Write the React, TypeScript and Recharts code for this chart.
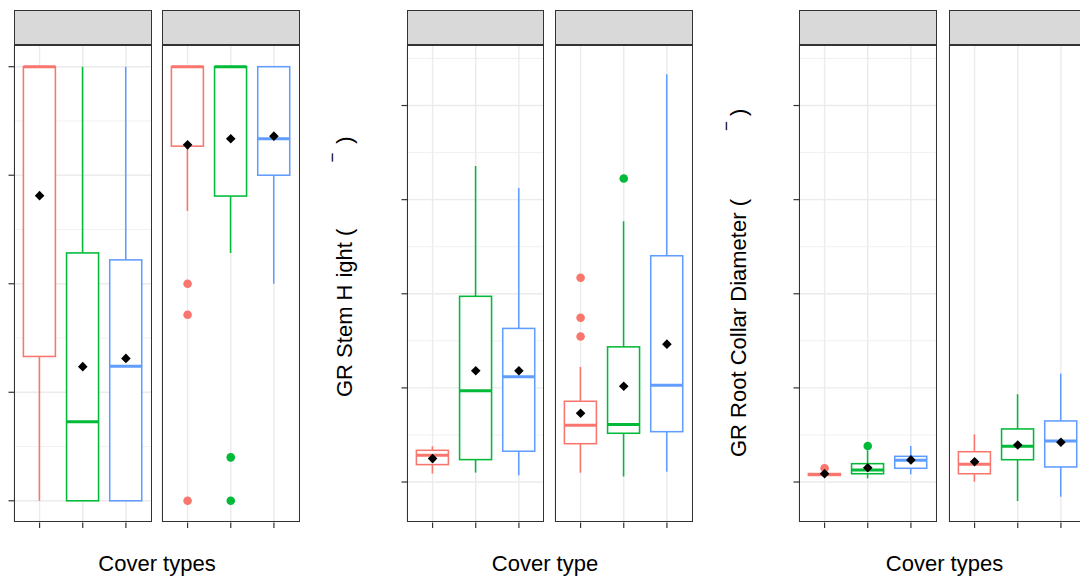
import React from 'react'
import { ComposedChart, Bar, Scatter, XAxis, YAxis, CartesianGrid } from 'recharts'

// cover types, one box per type in every facet
const covers = ['Bare soil', 'Herbaceous', 'Shrub']
const palette = ['#F8766D', '#00BA38', '#619CFF']

// box stats per cover type: [lower whisker, Q1, median, Q3, upper whisker, mean]
const survivalA = [
  [0, 0.3325, 1, 1, 1, 0.703],
  [0, 0, 0.182, 0.571, 1, 0.309],
  [0, 0, 0.31, 0.555, 1, 0.328],
]
const survivalB = [
  [0.6675, 0.817, 1, 1, 1, 0.82],
  [0.571, 0.702, 1, 1, 1, 0.834],
  [0.5, 0.75, 0.834, 1, 1, 0.84],
]
const survivalBOut = [[0.5, 0.4286, 0], [0.1, 0], []]

const stemA = [
  [0.09, 0.185, 0.284, 0.337, 0.38, 0.249],
  [0.1, 0.238, 0.971, 1.973, 3.358, 1.182],
  [0.071, 0.327, 1.119, 1.632, 3.123, 1.182],
]
const stemB = [
  [0.099, 0.407, 0.603, 0.858, 1.223, 0.731],
  [0.059, 0.518, 0.61, 1.436, 2.771, 1.018],
  [0.11, 0.535, 1.029, 2.404, 4.333, 1.465],
]
const stemBOut = [[2.17, 1.745, 1.546], [3.225], []]

const collarA = [
  [0.065, 0.07, 0.08, 0.09, 0.095, 0.088],
  [0.039, 0.088, 0.128, 0.195, 0.337, 0.152],
  [0.082, 0.146, 0.231, 0.273, 0.383, 0.235],
]
const collarAOut = [[0.146], [0.383], []]
const collarB = [
  [0.003, 0.088, 0.188, 0.322, 0.507, 0.216],
  [-0.202, 0.237, 0.38, 0.564, 0.933, 0.394],
  [-0.156, 0.16, 0.436, 0.649, 1.152, 0.422],
]

// axis breaks
const survivalTicks = [0, 0.25, 0.5, 0.75, 1]
const survivalMinor = [0.125, 0.375, 0.625, 0.875]
const growthTicks = [0, 1, 2, 3, 4]
const growthMinor = [0.5, 1.5, 2.5, 3.5, 4.5]

const survivalDomain: [number, number] = [-0.05, 1.05]
const growthDomain: [number, number] = [-0.43, 4.643]

const OUT_KEYS = ['out0', 'out1', 'out2']

type Row = {
  cover: string
  lo: number
  q1: number
  med: number
  q3: number
  hi: number
  mean: number
  [k: string]: any
}

function toRows(stats: number[][], outliers: number[][] = []): Row[] {
  return covers.map((cover, i) => {
    const [lo, q1, med, q3, hi, mean] = stats[i]
    const o = outliers[i] || []
    const row: Row = { cover, lo, q1, med, q3, hi, mean }
    OUT_KEYS.forEach((k, j) => {
      row[k] = o[j] ?? null
    })
    return row
  })
}

// layout
const STRIP_TOP = 10
const PLOT_TOP = 44.5
const PLOT_BOTTOM = 522
const FACET_W = 137.5
const AXW = 8
const AXH = 8
const INK = '#333333'
const LINE_W = 1.55

const colorOf = (cover: string) => palette[covers.indexOf(cover)]

function BoxShape(props: any) {
  const { x, y, width, height, payload } = props
  if (!payload) return null
  const top = Math.min(y, y + height)
  const k = Math.abs(height) / (payload.hi - payload.lo)
  const py = (v: number) => top + (payload.hi - v) * k
  const cx = x + width / 2
  const c = colorOf(payload.cover)
  return (
    <g>
      <line x1={cx} x2={cx} y1={py(payload.hi)} y2={py(payload.q3)} stroke={c} strokeWidth={LINE_W} />
      <line x1={cx} x2={cx} y1={py(payload.q1)} y2={py(payload.lo)} stroke={c} strokeWidth={LINE_W} />
      <rect
        x={x}
        y={py(payload.q3)}
        width={width}
        height={py(payload.q1) - py(payload.q3)}
        fill="#fff"
        stroke={c}
        strokeWidth={LINE_W}
      />
      <line x1={x} x2={x + width} y1={py(payload.med)} y2={py(payload.med)} stroke={c} strokeWidth={3} />
    </g>
  )
}

function Diamond(props: any) {
  const { cx, cy } = props
  if (cx == null || cy == null || isNaN(cy)) return null
  const r = 4.8
  return <path d={`M${cx},${cy - r}L${cx + r},${cy}L${cx},${cy + r}L${cx - r},${cy}Z`} fill="#000" />
}

const outlierShape = (key: string) => (props: any) => {
  const { cx, cy, payload } = props
  if (!payload || payload[key] == null || isNaN(cy)) return <g />
  return <circle cx={cx} cy={cy} r={4.3} fill={colorOf(payload.cover)} />
}

function YTick(props: any) {
  const { x, y } = props
  return <line x1={x - 5.5} x2={x} y1={y} y2={y} stroke={INK} strokeWidth={1.2} />
}

function XTick(props: any) {
  const { x, y } = props
  return <line x1={x} x2={x} y1={y} y2={y + 5.5} stroke={INK} strokeWidth={1.2} />
}

type FacetProps = {
  left: number
  rows: Row[]
  domain: [number, number]
  ticks: number[]
  minor: number[]
  showY?: boolean
}

function Facet({ left, rows, domain, ticks, minor, showY }: FacetProps) {
  const h = PLOT_BOTTOM - PLOT_TOP
  return (
    <>
      <div
        style={{
          position: 'absolute',
          left,
          top: STRIP_TOP,
          width: FACET_W,
          height: PLOT_TOP - STRIP_TOP,
          background: '#D9D9D9',
          border: `1.5px solid ${INK}`,
          boxSizing: 'border-box',
        }}
      />
      <div style={{ position: 'absolute', left: left - AXW, top: PLOT_TOP }}>
        <ComposedChart
          width={FACET_W + AXW}
          height={h + AXH}
          data={rows}
          margin={{ top: 0, right: 0, bottom: 0, left: 0 }}
          barCategoryGap="12.5%"
        >
          <CartesianGrid horizontalValues={minor} vertical={false} stroke="#EEEEEE" strokeWidth={0.8} />
          <CartesianGrid horizontalValues={ticks} stroke="#EBEBEB" strokeWidth={1.4} />
          <XAxis
            dataKey="cover"
            type="category"
            padding={{ left: 4, right: 4 }}
            height={AXH}
            interval={0}
            axisLine={false}
            tickLine={false}
            tickSize={0}
            tickMargin={0}
            tick={<XTick />}
          />
          <YAxis
            type="number"
            domain={domain}
            ticks={ticks}
            allowDataOverflow
            width={AXW}
            axisLine={false}
            tickLine={false}
            tickSize={0}
            tickMargin={0}
            tick={showY ? <YTick /> : false}
          />
          <Bar dataKey={(r: Row) => [r.lo, r.hi]} shape={<BoxShape />} isAnimationActive={false} />
          {OUT_KEYS.map((k) => (
            <Scatter key={k} dataKey={k} shape={outlierShape(k)} isAnimationActive={false} />
          ))}
          <Scatter dataKey="mean" shape={<Diamond />} isAnimationActive={false} />
        </ComposedChart>
      </div>
      <div
        style={{
          position: 'absolute',
          left,
          top: PLOT_TOP,
          width: FACET_W,
          height: h,
          border: `1.5px solid ${INK}`,
          boxSizing: 'border-box',
          pointerEvents: 'none',
        }}
      />
    </>
  )
}

const FONT = '"Liberation Sans", Arial, Helvetica, sans-serif'

export default function App() {
  return (
    <div
      style={{
        position: 'fixed',
        left: 0,
        top: 0,
        width: 1080,
        height: 579,
        overflow: 'hidden',
        background: '#fff',
        fontFamily: FONT,
      }}
    >
      <Facet left={14} rows={toRows(survivalA)} domain={survivalDomain} ticks={survivalTicks} minor={survivalMinor} showY />
      <Facet left={162.4} rows={toRows(survivalB, survivalBOut)} domain={survivalDomain} ticks={survivalTicks} minor={survivalMinor} />

      <Facet left={406.7} rows={toRows(stemA)} domain={growthDomain} ticks={growthTicks} minor={growthMinor} showY />
      <Facet left={555.3} rows={toRows(stemB, stemBOut)} domain={growthDomain} ticks={growthTicks} minor={growthMinor} />

      <Facet left={799.3} rows={toRows(collarA, collarAOut)} domain={growthDomain} ticks={growthTicks} minor={growthMinor} showY />
      <Facet left={948.7} rows={toRows(collarB)} domain={growthDomain} ticks={growthTicks} minor={growthMinor} />

      <svg
        width={1080}
        height={579}
        style={{ position: 'absolute', left: 0, top: 0, pointerEvents: 'none' }}
        fontFamily={FONT}
        fill="#000"
      >
        <text x={157} y={571} fontSize={22} textAnchor="middle">Cover types</text>
        <text x={545} y={571} fontSize={22} textAnchor="middle">Cover type</text>
        <text x={944.5} y={571} fontSize={22} textAnchor="middle">Cover types</text>

        <text transform="translate(352,397) rotate(-90)" fontSize={22}>
          GR Stem H
          <tspan dx={7}>ight (</tspan>
          <tspan dx={66} dy={-13.6} fontSize={17}>−</tspan>
          <tspan dx={9} dy={13.6}>)</tspan>
        </text>
        <text transform="translate(746,457) rotate(-90)" fontSize={22}>
          GR Root Collar Diameter (
          <tspan dx={68} dy={-13.6} fontSize={17}>−</tspan>
          <tspan dx={5} dy={13.6}>)</tspan>
        </text>
      </svg>
    </div>
  )
}
